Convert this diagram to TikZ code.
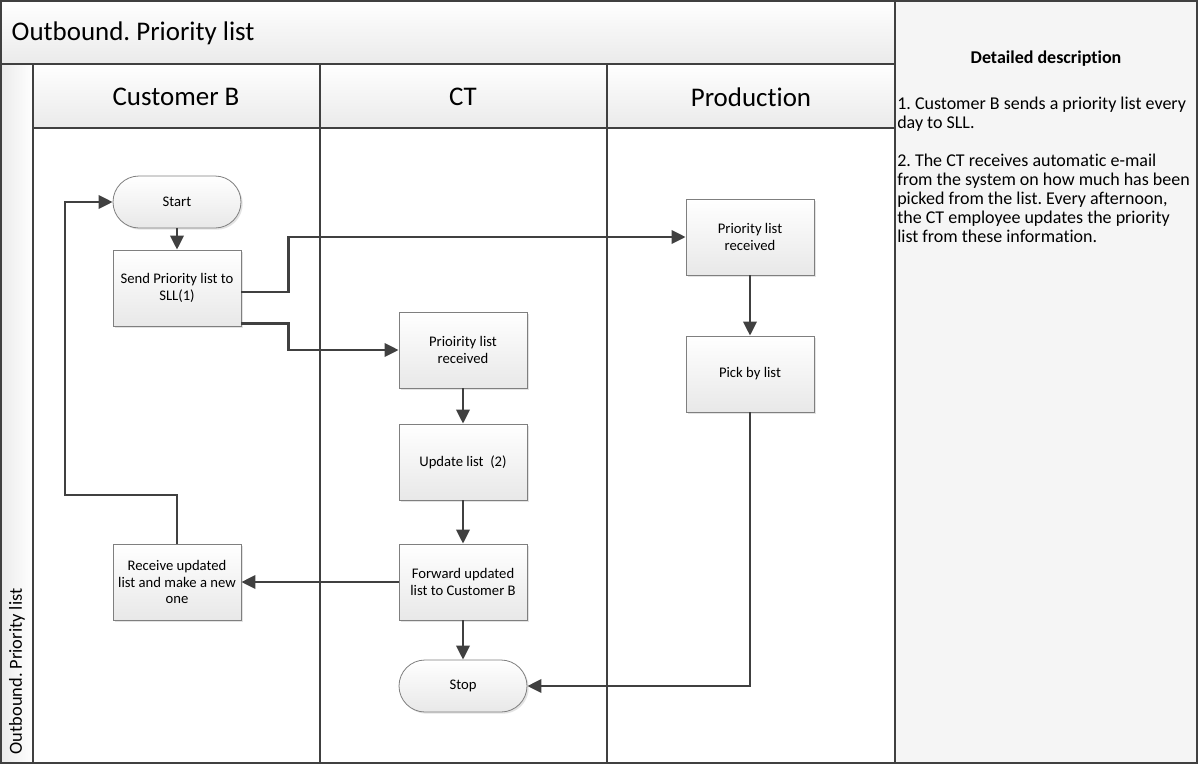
\documentclass[tikz,border=0pt]{standalone}
\usepackage{fontspec}
\setmainfont{Carlito}[Ligatures=NoCommon]
\frenchspacing
\usetikzlibrary{arrows.meta,shadows,calc}
\definecolor{linegray}{HTML}{404040}
\definecolor{boxedge}{HTML}{7F7F7F}
\definecolor{panelgray}{HTML}{F5F5F5}
\definecolor{barlow}{HTML}{EAEAEA}
\begin{document}
\begin{tikzpicture}[x=0.75pt,y=-0.75pt,
  stepbox/.style={draw=boxedge, line width=0.6pt, top color=white, bottom color=black!9,
    minimum width=96pt, minimum height=57pt, inner sep=2pt, align=center,
    font=\fontsize{11}{12.6}\selectfont,
    drop shadow={shadow xshift=1.3pt, shadow yshift=-1.3pt, opacity=0.22}},
  termbox/.style={stepbox, rounded corners=19.5pt, minimum height=39pt},
  flow/.style={draw=linegray, line width=1.9pt, -{Triangle[length=10.5pt,width=10pt]}},
  lane/.style={draw=linegray, line width=1.2pt},
  header/.style={font=\fontsize{20.2}{24}\selectfont, text=black},
]
\useasboundingbox (0,0) rectangle (1199,764);

% panels and bars
\fill[panelgray] (895,0) rectangle (1197,763);
\shade[top color=white, bottom color=barlow] (0,0) rectangle (895,64);
\shade[top color=white, bottom color=barlow] (33,64) rectangle (895,128);
\shade[left color=barlow, right color=white] (0,64) rectangle (33,763);

% frame and lane lines
\draw[lane] (0.8,0.8) rectangle (1197,763);
\draw[lane] (895,0) -- (895,763);
\draw[lane] (0,64) -- (895,64);
\draw[lane] (33,64) -- (33,763);
\draw[lane] (33,128) -- (895,128);
\draw[lane] (320,64) -- (320,763);
\draw[lane] (607,64) -- (607,763);

% titles
\node[header, anchor=west] (title) at (7,33) {Outbound. Priority list};
\node[header] (laneA) at (176,97) {Customer B};
\node[header] (laneB) at (463,97) {CT};
\node[header] (laneC) at (751,97) {Production};
\node[font=\fontsize{13.8}{16}\selectfont, rotate=90, anchor=west] (side) at (17,759) {Outbound. Priority list};

% description panel
\node[font=\fontsize{13.5}{16}\selectfont\bfseries] (dtitle) at (1046,59) {Detailed description};
\node[font=\fontsize{13.5}{14.25}\selectfont, align=left, anchor=north west, inner sep=0pt] (dbody) at (897,97)
  {1. Customer B sends a priority list every\\
   day to SLL.\\[14.25pt]
   2. The CT receives automatic e-mail\\
   from the system on how much has been\\
   picked from the list. Every afternoon,\\
   the CT employee updates the priority\\
   list from these information.};

% flow steps
\node[termbox] (start) at (177,202) {Start};
\node[stepbox] (send) at (177,288) {Send Priority list to\\SLL(1)};
\node[stepbox] (recv) at (177,582) {Receive updated\\list and make a new\\one};
\node[stepbox] (ctrcv) at (463,350) {Prioirity list\\received};
\node[stepbox] (update) at (463,462) {Update list~~(2)};
\node[stepbox] (fwd) at (463,582) {Forward updated\\list to Customer B};
\node[termbox] (stop) at (463,686) {Stop};
\node[stepbox] (prodrcv) at (750,237) {Priority list\\received};
\node[stepbox] (pick) at (750,374) {Pick by list};

\coordinate (loop) at (65,495);

% connectors
\draw[flow] (start.south) -- (send.north);
\draw[flow] ([yshift=-3pt]send.east) -- ++(47,0) |- (prodrcv.west);
\draw[flow] ([yshift=2.25pt]send.south east) -- ++(47,0) |- (ctrcv.west);
\draw[flow] (ctrcv.south) -- (update.north);
\draw[flow] (update.south) -- (fwd.north);
\draw[flow] (fwd.south) -- (stop.north);
\draw[flow] (fwd.west) -- (recv.east);
\draw[flow] (recv.north) |- (loop) |- (start.west);
\draw[flow] (prodrcv.south) -- (pick.north);
\draw[flow] (pick.south) |- (stop.east);
\end{tikzpicture}
\end{document}
